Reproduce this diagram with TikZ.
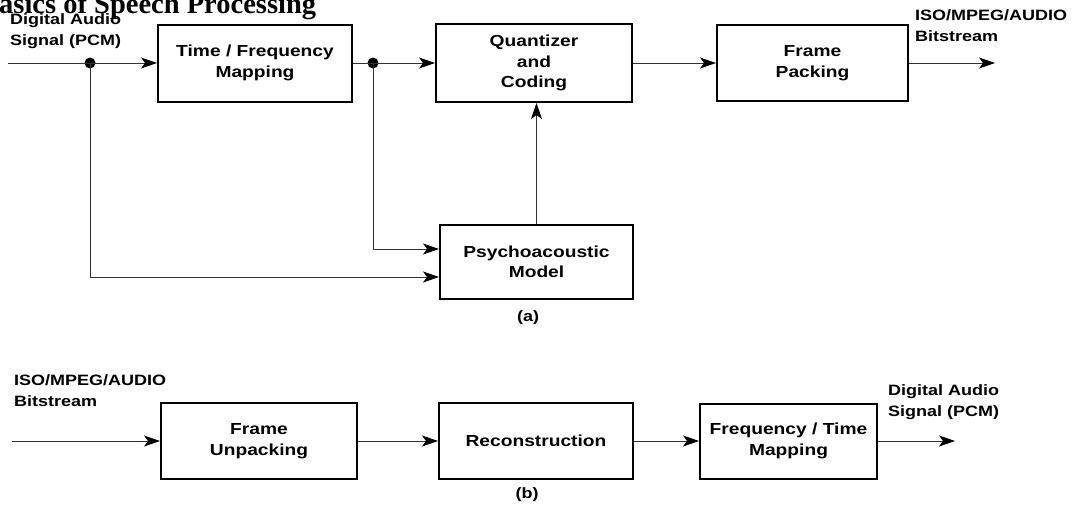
\documentclass[tikz,border=0pt]{standalone}
\usepackage{fontspec}
\newfontfamily\lab{Liberation Sans Bold}[FakeStretch=1.2]
\newfontfamily\ttl{Liberation Serif Bold}
\usetikzlibrary{arrows.meta,calc}
\begin{document}
\begin{tikzpicture}[x=1pt,y=-1pt,
  blk/.style={draw=black,line width=2pt,inner sep=0pt,align=center,font=\lab\fontsize{16}{20.5}\selectfont},
  lbl/.style={inner sep=0pt,align=left,font=\lab\fontsize{15}{21}\selectfont},
  sublbl/.style={inner sep=0pt,font=\lab\fontsize{15}{21}\selectfont},
  conn/.style={draw=black!80,line width=1pt,-{Stealth[length=16pt,width=11pt,inset=4pt,color=black]}},
  jdot/.style={circle,fill=black,inner sep=0pt,minimum size=11pt}]
\useasboundingbox (0,0) rectangle (1073,506);
% title (cut at top)
\node[anchor=base west,inner sep=0pt,font=\ttl\fontsize{28.5}{30}\selectfont] (title) at (-1,13.5) {asics of Speech Processing};
% top row
\node[blk,minimum width=194pt,minimum height=77pt] (tf) at (255,63) {Time / Frequency\\Mapping};
\node[blk,minimum width=196pt,minimum height=78pt] (qc) at (534,63) {Quantizer\\and\\Coding};
\node[blk,minimum width=191pt,minimum height=76pt] (fp) at (812.5,63) {Frame\\Packing};
\node[blk,minimum width=193pt,minimum height=74pt] (pm) at (536.5,262) {Psychoacoustic\\Model};
\coordinate (in1) at (8,63);
\coordinate (out1) at (995,63);
\node[jdot] (d1) at (90,63) {};
\node[jdot] (d2) at (373,63) {};
\draw[conn] (in1) -- (tf.west);
\draw[conn] (tf.east) -- (qc.west);
\draw[conn] (qc.east) -- (fp.west);
\draw[conn] (fp.east) -- (out1);
\draw[conn] (d2.center) |- ([yshift=13pt]pm.west);
\draw[conn] (d1.center) |- ([yshift=-15pt]pm.west);
\draw[conn] (pm.north) -- (pm.north |- qc.south);
\node[lbl,anchor=north west] (l1) at (10,13) {Digital Audio\\Signal (PCM)};
\node[lbl,anchor=north west] (l2) at (915,9) {ISO/MPEG/AUDIO\\Bitstream};
\node[sublbl] (ca) at (528,318) {(a)};
% bottom row
\node[blk,minimum width=196pt,minimum height=76pt] (fu) at (259,441) {Frame\\Unpacking};
\node[blk,minimum width=194pt,minimum height=76pt] (rc) at (536,441) {Reconstruction};
\node[blk,minimum width=177pt,minimum height=75pt] (ft) at (788.5,441) {Frequency / Time\\Mapping};
\coordinate (in2) at (12,441);
\coordinate (out2) at (955,441);
\draw[conn] (in2) -- (fu.west);
\draw[conn] (fu.east) -- (rc.west);
\draw[conn] (rc.east) -- (ft.west);
\draw[conn] (ft.east) -- (out2);
\node[lbl,anchor=north west] (l3) at (14,374) {ISO/MPEG/AUDIO\\Bitstream};
\node[lbl,anchor=north west] (l4) at (888,384) {Digital Audio\\Signal (PCM)};
\node[sublbl] (cb) at (527,495) {(b)};
\end{tikzpicture}
\end{document}
